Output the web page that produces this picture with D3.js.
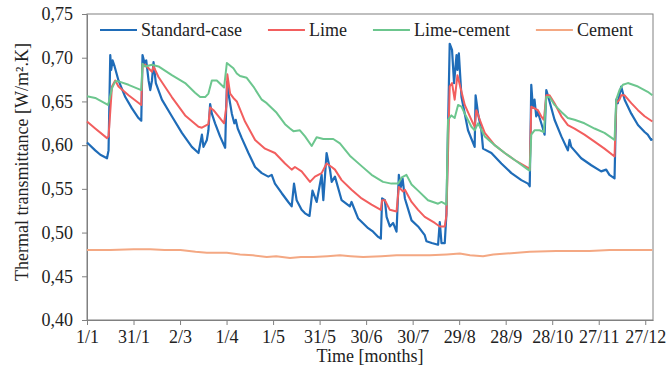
<!DOCTYPE html>
<html>
<head>
<meta charset="utf-8">
<script src="https://cdn.jsdelivr.net/npm/d3@7"></script>
<style>
  html, body { margin: 0; padding: 0; background: #fff; }
  svg text { font-family: "Liberation Serif", "Times New Roman", serif; fill: #222; }
</style>
</head>
<body>
<svg id="chart" width="668" height="371"></svg>
<script>
// Thermal transmittance over one year, day of year (0 = 1 January) vs W/m².K
const seriesNames = ["Standard-case", "Lime", "Lime-cement", "Cement"];
const seriesColors = ["#1f6cb8", "#f25e5e", "#6cc68e", "#f4a883"];

const xTickDays = [0, 30, 60, 90, 120, 150, 180, 210, 240, 270, 300, 330, 360];
const xTickLabels = ["1/1", "31/1", "2/3", "1/4", "1/5", "31/5", "30/6", "30/7", "29/8", "28/9", "28/10", "27/11", "27/12"];
const yTickValues = [0.40, 0.45, 0.50, 0.55, 0.60, 0.65, 0.70, 0.75];
const yTickLabels = ["0,40", "0,45", "0,50", "0,55", "0,60", "0,65", "0,70", "0,75"];

const standardCase = [[0,0.603],[5.3,0.594],[8.6,0.589],[12.9,0.585],[13.9,0.594],[15.0,0.703],[15.6,0.686],[16.5,0.697],[17.8,0.690],[20.3,0.674],[24.7,0.655],[29.0,0.642],[33.2,0.631],[35.0,0.628],[35.8,0.703],[37.1,0.694],[38.2,0.697],[39.7,0.674],[40.8,0.663],[41.9,0.674],[42.9,0.695],[44.4,0.671],[48.3,0.652],[54.7,0.633],[61.2,0.614],[67.6,0.598],[71.9,0.591],[74.1,0.612],[75.1,0.598],[77.3,0.606],[78.3,0.617],[79.4,0.647],[80.5,0.636],[82.6,0.625],[85.8,0.610],[89.1,0.597],[89.7,0.640],[90.3,0.672],[91.6,0.655],[93.4,0.636],[95.0,0.625],[95.9,0.629],[97.2,0.619],[99.8,0.608],[104.1,0.591],[108.4,0.575],[112.7,0.568],[116.9,0.564],[119.1,0.566],[121.2,0.556],[125.6,0.545],[129.8,0.535],[132.0,0.530],[133.5,0.556],[135.2,0.537],[138.4,0.526],[140.6,0.522],[143.5,0.519],[145.4,0.548],[148.1,0.535],[151.3,0.566],[152.4,0.537],[154.5,0.591],[156.7,0.572],[157.8,0.558],[159.9,0.564],[164.2,0.537],[169.5,0.530],[170.6,0.535],[174.9,0.516],[181.3,0.505],[184.5,0.501],[187.8,0.495],[189.5,0.493],[190.3,0.539],[192.1,0.537],[193.2,0.518],[195.3,0.507],[197.4,0.511],[199.6,0.501],[201.1,0.566],[202.4,0.552],[203.5,0.562],[205.0,0.539],[209.3,0.514],[213.5,0.507],[217.8,0.497],[218.9,0.490],[222.3,0.488],[226.4,0.486],[227.5,0.512],[228.6,0.488],[230.7,0.488],[231.8,0.522],[232.6,0.600],[233.9,0.716],[235.4,0.709],[236.7,0.671],[238.3,0.703],[238.9,0.686],[239.8,0.705],[241.5,0.655],[245.7,0.617],[250.0,0.598],[250.6,0.657],[252.2,0.636],[254.3,0.617],[255.4,0.596],[260.8,0.591],[267.2,0.579],[273.7,0.568],[280.1,0.560],[284.4,0.556],[285.5,0.553],[286.5,0.669],[287.5,0.644],[288.6,0.652],[289.7,0.633],[290.8,0.638],[291.9,0.631],[294.0,0.619],[295.1,0.612],[296.2,0.663],[297.2,0.657],[301.5,0.629],[305.9,0.610],[310.1,0.594],[311.2,0.606],[312.3,0.598],[318.7,0.585],[325.2,0.577],[331.6,0.570],[334.8,0.572],[336.9,0.566],[340.2,0.562],[341.3,0.652],[342.3,0.648],[344.5,0.667],[346.7,0.652],[351.0,0.636],[355.3,0.623],[359.6,0.615],[361.6,0.612],[363.8,0.606],[364.6,0.607]];

const lime = [[0,0.627],[5.3,0.619],[12.9,0.608],[13.9,0.610],[16.1,0.667],[18.2,0.674],[20.3,0.667],[26.8,0.657],[35.0,0.646],[35.8,0.692],[37.5,0.692],[40.8,0.686],[41.9,0.684],[42.9,0.690],[46.1,0.678],[54.7,0.655],[63.3,0.634],[71.9,0.621],[74.1,0.620],[78.3,0.624],[79.4,0.643],[81.6,0.640],[88.4,0.625],[89.9,0.645],[90.5,0.681],[92.3,0.659],[94.4,0.654],[96.6,0.650],[101.9,0.627],[108.4,0.606],[114.8,0.596],[121.2,0.591],[127.7,0.579],[132.0,0.572],[134.1,0.575],[138.4,0.570],[143.8,0.558],[147.0,0.564],[151.3,0.568],[154.5,0.579],[157.8,0.575],[159.9,0.572],[164.2,0.560],[170.6,0.549],[177.1,0.539],[183.5,0.532],[189.5,0.526],[190.3,0.537],[192.1,0.537],[195.3,0.526],[199.6,0.524],[201.1,0.552],[203.8,0.547],[205.0,0.549],[209.3,0.535],[213.5,0.526],[217.8,0.518],[224.3,0.511],[227.5,0.507],[230.7,0.507],[231.8,0.520],[233.9,0.667],[235.4,0.671],[237.1,0.652],[238.9,0.680],[240.4,0.669],[243.6,0.646],[247.9,0.629],[250.0,0.621],[251.1,0.640],[253.3,0.629],[256.5,0.614],[262.9,0.600],[269.4,0.591],[275.8,0.583],[284.4,0.574],[285.5,0.572],[286.5,0.644],[288.6,0.642],[290.8,0.640],[292.9,0.633],[294.6,0.629],[296.2,0.657],[298.3,0.657],[301.5,0.648],[305.9,0.633],[310.1,0.623],[314.4,0.619],[320.8,0.612],[327.3,0.604],[333.7,0.596],[340.2,0.587],[341.3,0.648],[343.4,0.652],[344.5,0.657],[346.7,0.657],[351.0,0.648],[355.3,0.640],[359.6,0.633],[364.6,0.627]];

const limeCement = [[0,0.656],[5.3,0.654],[13.5,0.646],[13.9,0.648],[16.1,0.665],[18.2,0.673],[20.3,0.673],[26.8,0.669],[35.0,0.663],[35.8,0.693],[37.5,0.690],[41.9,0.692],[46.1,0.690],[54.7,0.680],[63.3,0.671],[69.7,0.660],[73.0,0.655],[76.2,0.655],[78.3,0.659],[80.5,0.674],[83.7,0.674],[88.4,0.666],[90.2,0.694],[94.4,0.688],[96.6,0.682],[98.7,0.679],[103.0,0.677],[107.3,0.667],[112.7,0.652],[115.9,0.648],[122.3,0.637],[127.7,0.624],[130.9,0.619],[133.1,0.616],[137.3,0.617],[140.6,0.610],[144.9,0.599],[148.1,0.609],[152.4,0.607],[158.8,0.607],[163.1,0.602],[169.5,0.588],[177.1,0.576],[183.5,0.566],[190.9,0.558],[196.3,0.556],[200.6,0.556],[203.0,0.563],[206.0,0.566],[209.3,0.555],[213.5,0.548],[219.9,0.537],[226.4,0.533],[228.6,0.535],[231.8,0.532],[232.8,0.629],[235.0,0.634],[237.1,0.631],[239.3,0.646],[241.5,0.644],[243.6,0.636],[247.9,0.621],[250.0,0.617],[252.2,0.625],[256.5,0.610],[262.9,0.600],[269.4,0.591],[275.8,0.583],[284.4,0.572],[285.5,0.571],[286.5,0.612],[288.6,0.617],[291.9,0.617],[294.6,0.615],[296.2,0.655],[298.3,0.655],[301.5,0.646],[305.9,0.638],[310.1,0.631],[314.4,0.629],[320.8,0.625],[327.3,0.619],[333.7,0.614],[340.2,0.606],[341.3,0.652],[343.4,0.663],[345.6,0.669],[348.8,0.671],[355.3,0.667],[361.6,0.661],[364.6,0.657]];

const cement = [[0,0.480],[15,0.480],[30,0.481],[40.8,0.481],[50,0.480],[60.3,0.480],[70,0.478],[77.3,0.477],[90.2,0.477],[98.7,0.475],[107,0.474],[115.9,0.472],[122,0.473],[130.9,0.471],[138,0.472],[145.9,0.472],[155,0.473],[163.1,0.474],[170,0.473],[178.1,0.472],[190,0.473],[199.6,0.474],[210,0.474],[221.1,0.474],[232,0.475],[240.4,0.476],[247,0.474],[255.4,0.473],[262,0.475],[270.4,0.476],[285.5,0.478],[302.6,0.479],[324.1,0.479],[337,0.480],[349.9,0.480],[364.6,0.480]];

const allSeries = [standardCase, lime, limeCement, cement];

const svg = d3.select("#chart");
const W = 668, H = 371;
const margin = { top: 14, right: 15, bottom: 51, left: 87 };
const innerW = W - margin.left - margin.right;
const innerH = H - margin.top - margin.bottom;
const axisColor = "#808080";

const x = d3.scaleLinear().domain([0, 365]).range([0, innerW]);
const y = d3.scaleLinear().domain([0.40, 0.75]).range([innerH, 0]);

const g = svg.append("g").attr("transform", `translate(${margin.left},${margin.top})`);

// plot frame
g.append("rect")
  .attr("x", 0).attr("y", 0).attr("width", innerW).attr("height", innerH)
  .attr("fill", "none").attr("stroke", axisColor).attr("stroke-width", 1);

// axes
const xAxis = d3.axisBottom(x)
  .tickValues(xTickDays)
  .tickFormat((d, i) => xTickLabels[i])
  .tickSizeInner(5).tickSizeOuter(0).tickPadding(5);
const yAxis = d3.axisLeft(y)
  .tickValues(yTickValues)
  .tickFormat((d, i) => yTickLabels[i])
  .tickSizeInner(5).tickSizeOuter(0).tickPadding(9);

const gx = g.append("g").attr("transform", `translate(0,${innerH})`).call(xAxis);
const gy = g.append("g").call(yAxis);
[gx, gy].forEach(a => {
  a.select(".domain").attr("stroke", axisColor);
  a.selectAll(".tick line").attr("stroke", axisColor);
  a.selectAll(".tick text")
    .attr("font-family", "'Liberation Serif', 'Times New Roman', serif")
    .attr("font-size", 18).attr("fill", "#222");
});

// series lines
const line = d3.line().x(d => x(d[0])).y(d => y(d[1]));
allSeries.forEach((s, i) => {
  g.append("path")
    .datum(s)
    .attr("d", line)
    .attr("fill", "none")
    .attr("stroke", seriesColors[i])
    .attr("stroke-width", i === 0 ? 2.2 : 2)
    .attr("stroke-linejoin", "round");
});

// legend
const legend = g.append("g").attr("transform", "translate(13,16)");
let lx = 0;
seriesNames.forEach((name, i) => {
  legend.append("line")
    .attr("x1", lx).attr("x2", lx + 37).attr("y1", 0).attr("y2", 0)
    .attr("stroke", seriesColors[i]).attr("stroke-width", 2);
  const t = legend.append("text")
    .attr("x", lx + 41).attr("y", 6)
    .attr("font-size", 18)
    .text(name);
  lx += 41 + t.node().getComputedTextLength() + 26;
});

// axis titles
svg.append("text")
  .attr("x", margin.left + innerW / 2).attr("y", 362)
  .attr("text-anchor", "middle").attr("font-size", 18)
  .text("Time [months]");

svg.append("text")
  .attr("transform", "translate(28,162) rotate(-90)")
  .attr("text-anchor", "middle").attr("font-size", 18)
  .text("Thermal transmittance [W/m².K]");
</script>
</body>
</html>
